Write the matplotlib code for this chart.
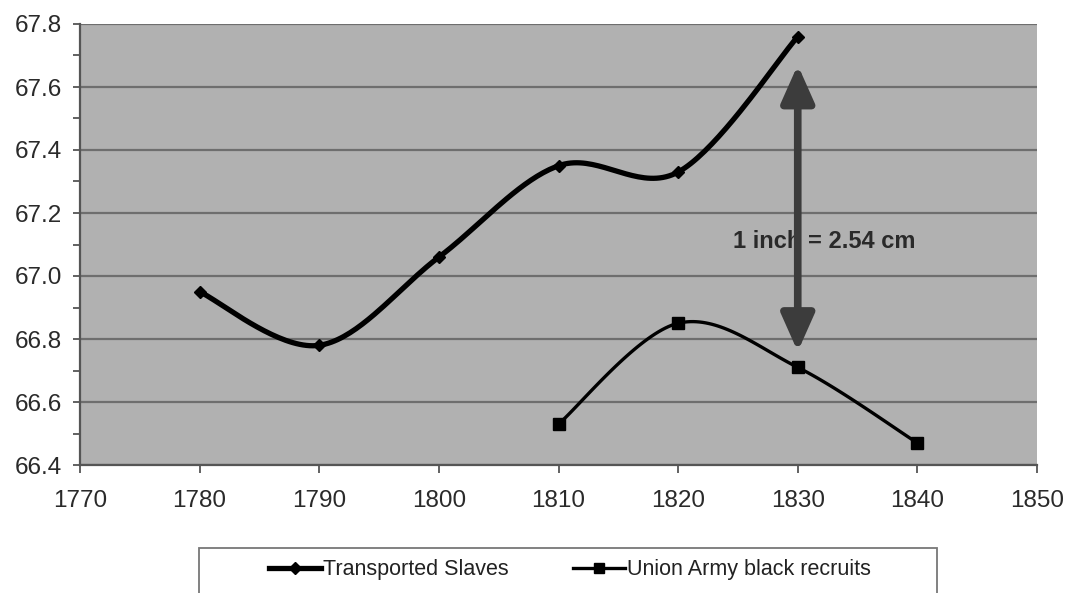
import numpy as np
import matplotlib
matplotlib.use("Agg")
import matplotlib.pyplot as plt
from matplotlib.patches import Rectangle

# data
years_slaves = [1780, 1790, 1800, 1810, 1820, 1830]
height_slaves = [66.95, 66.78, 67.06, 67.35, 67.33, 67.76]
years_union = [1810, 1820, 1830, 1840]
height_union = [66.53, 66.85, 66.71, 66.47]
x_ticks = [1770, 1780, 1790, 1800, 1810, 1820, 1830, 1840, 1850]
y_ticks = [66.4, 66.6, 66.8, 67.0, 67.2, 67.4, 67.6, 67.8]
note = "1 inch = 2.54 cm"


def smooth(xs, ys, n=40):
    # Excel style smoothed line (bezier, catmull-rom control points)
    p = np.column_stack([xs, ys]).astype(float)
    out = []
    for i in range(len(p) - 1):
        p0 = p[i - 1] if i > 0 else p[i]
        p1, p2 = p[i], p[i + 1]
        p3 = p[i + 2] if i + 2 < len(p) else p[i + 1]
        c1 = p1 + (p2 - p0) / 6.0
        c2 = p2 - (p3 - p1) / 6.0
        t = np.linspace(0, 1, n)[:, None]
        seg = (1 - t) ** 3 * p1 + 3 * (1 - t) ** 2 * t * c1 + 3 * (1 - t) * t ** 2 * c2 + t ** 3 * p2
        out.append(seg if i == 0 else seg[1:])
    out = np.vstack(out)
    return out[:, 0], out[:, 1]


plt.rcParams['font.family'] = ['Liberation Sans', 'DejaVu Sans']

fig = plt.figure(figsize=(10.7, 5.93), dpi=100)
ax = fig.add_axes([80 / 1070, 1 - 465 / 593, 957 / 1070, 441 / 593])
ax.set_facecolor('#b1b1b1')

sx, sy = smooth(years_slaves, height_slaves)
ax.plot(sx, sy, color='black', lw=3.8, solid_capstyle='round', zorder=3)
ax.plot(years_slaves, height_slaves, ls='none', marker='D', ms=6, color='black', zorder=4)

ux, uy = smooth(years_union, height_union)
ax.plot(ux, uy, color='black', lw=2.4, zorder=3)
ax.plot(years_union, height_union, ls='none', marker='s', ms=8, color='black', zorder=4)

# double arrow (one inch), drawn over the note text
ax.text(1832.2, 67.11, note, fontsize=17, fontweight='bold', color='#2a2a2a',
        ha='center', va='center', zorder=5)
ax.annotate('', xy=(1830, 66.76), xytext=(1830, 67.67),
            arrowprops=dict(arrowstyle='<|-|>,head_length=0.45,head_width=0.2',
                            color='#3c3c3c', lw=5.5, mutation_scale=50,
                            shrinkA=0, shrinkB=0), zorder=6)

ax.set_xlim(1770, 1850)
ax.set_ylim(66.4, 67.8)
ax.set_xticks(x_ticks)
ax.set_yticks(y_ticks)
ax.set_yticks(np.arange(66.5, 67.8, 0.2), minor=True)
ax.yaxis.set_major_formatter(matplotlib.ticker.FormatStrFormatter('%.1f'))
ax.grid(axis='y', which='major', color='#6e6e6e', lw=1.6)
ax.set_axisbelow(True)
for side in ['top', 'right']:
    ax.spines[side].set_visible(False)
for side in ['left', 'bottom']:
    ax.spines[side].set_color('#555555')
    ax.spines[side].set_linewidth(1.6)
ax.tick_params(axis='both', which='both', direction='out', color='#555555',
               labelcolor='#2a2a2a', labelsize=17.5, width=1.3)
ax.tick_params(axis='y', which='major', length=5, pad=8)
ax.tick_params(axis='y', which='minor', length=5)
ax.tick_params(axis='x', length=6, pad=12)

# legend box
fig.patches.append(Rectangle((199 / 1070, 1 - 600 / 593), 738 / 1070, 52 / 593,
                             transform=fig.transFigure, fill=False,
                             edgecolor='#777777', lw=1.3))
h1, = ax.plot([], [], color='black', lw=3.8, marker='D', ms=6)
h2, = ax.plot([], [], color='black', lw=2.4, marker='s', ms=7)
fig.legend([h1, h2], ['Transported Slaves', 'Union Army black recruits'],
           loc='center', bbox_to_anchor=(570 / 1070, 1 - 570 / 593),
           ncol=2, frameon=False, fontsize=15.5, handlelength=2.4,
           handletextpad=0.1, columnspacing=3.0, labelcolor='#222222')

fig.savefig('out.png', dpi=100)
